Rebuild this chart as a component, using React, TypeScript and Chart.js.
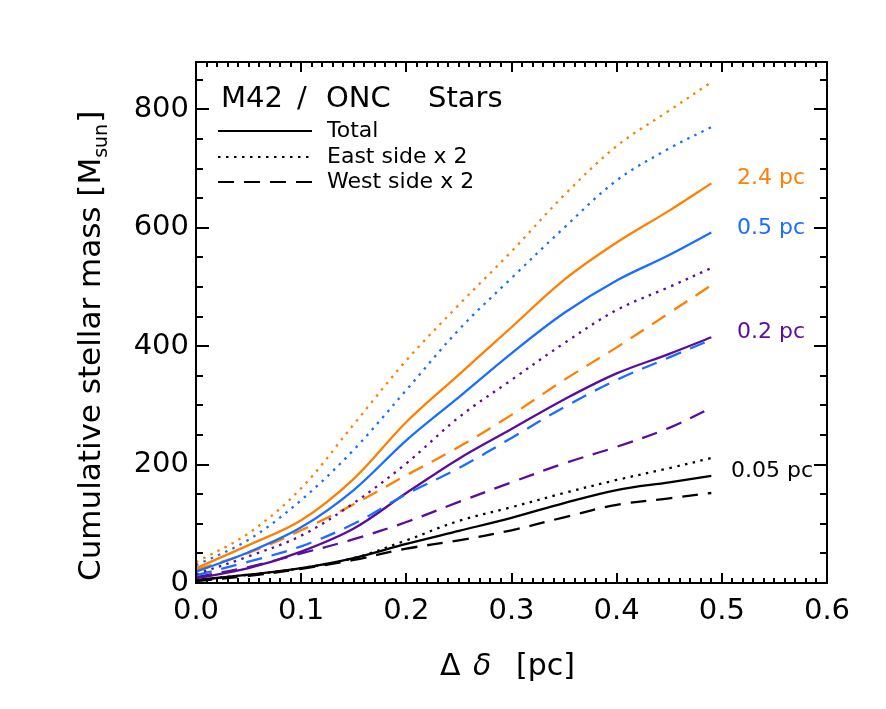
import React, { useEffect, useRef } from 'react';
import { Chart, registerables } from 'chart.js';
Chart.register(...registerables);

// ---- data ----
const xs = [0, 0.05, 0.1, 0.15, 0.2, 0.25, 0.3, 0.35, 0.4, 0.45, 0.49];
const east24 = [35, 84, 160, 268, 376, 470, 560, 655, 738, 798, 846];
const tot24 = [25, 64, 106, 176, 272, 352, 432, 512, 575, 629, 675];
const west24 = [22, 51, 89, 133, 182, 230, 284, 343, 398, 456, 503];
const east05 = [30, 73, 140, 225, 326, 428, 515, 600, 680, 734, 770];
const tot05 = [19, 52, 94, 157, 241, 314, 388, 456, 511, 554, 592];
const west05 = [13, 36, 62, 100, 150, 194, 245, 297, 343, 381, 411];
const east02 = [15, 45, 80, 135, 202, 280, 343, 405, 461, 500, 532];
const tot02 = [8, 25, 53, 92, 152, 210, 260, 310, 354, 387, 415];
const west02 = [10, 27, 50, 74, 103, 137, 170, 202, 230, 262, 296];
const east005 = [5, 14, 25, 42, 72, 105, 128, 152, 174, 194, 211];
const tot005 = [5, 14, 25, 42, 66, 88, 110, 135, 157, 170, 181];
const west005 = [3, 12, 24, 39, 58, 72, 89, 111, 132, 143, 152];

const xTicks = [0, 0.1, 0.2, 0.3, 0.4, 0.5, 0.6];
const yTicks = [0, 200, 400, 600, 800];
const scaleLabels = ['2.4 pc', '0.5 pc', '0.2 pc', '0.05 pc'];
const scaleLabelSeries = [tot24, tot05, tot02, tot005];
const legendTitleWords = ['M42', '/', 'ONC', 'Stars'];
const legendLabels = ['Total', 'East side x 2', 'West side x 2'];
const xTitle = ['Δ', 'δ', '[pc]'];
const yTitle = ['Cumulative stellar mass [M', 'sun', ']'];

const ORANGE = '#ff8000';
const BLUE = '#1a6eff';
const PURPLE = '#5c0c9c';
const BLACK = '#000000';
const colors = [ORANGE, BLUE, PURPLE, BLACK];
const DOT = [2.5, 5.5];
const DASH = [16, 10];
const FONT = '"DejaVu Sans", sans-serif';

function pts(ys: number[]) {
  return ys.map((y, i) => ({ x: xs[i], y }));
}

function ds(ys: number[], color: string, dash: number[]) {
  return {
    data: pts(ys),
    borderColor: color,
    borderWidth: 2.3,
    borderDash: dash,
    pointRadius: 0,
    tension: 0.35,
    fill: false,
  };
}

const decor = {
  id: 'decor',
  afterDraw(chart: any) {
    const ctx = chart.ctx as CanvasRenderingContext2D;
    const { left, right, top, bottom } = chart.chartArea;
    const xs_ = chart.scales.x;
    const ys_ = chart.scales.y;
    ctx.save();
    ctx.strokeStyle = '#000';
    ctx.lineWidth = 2;
    ctx.setLineDash([]);
    ctx.strokeRect(left, top, right - left, bottom - top);
    ctx.beginPath();
    for (let i = 0; i <= 60; i++) {
      const v = i / 100;
      const px = Math.round(xs_.getPixelForValue(v));
      const len = i % 10 === 0 ? 10 : 5;
      ctx.moveTo(px, bottom);
      ctx.lineTo(px, bottom - len);
      ctx.moveTo(px, top);
      ctx.lineTo(px, top + len);
    }
    for (let v = 0; v <= 880; v += 50) {
      const py = Math.round(ys_.getPixelForValue(v));
      const len = v % 200 === 0 ? 13 : 7;
      ctx.moveTo(left, py);
      ctx.lineTo(left + len, py);
      ctx.moveTo(right, py);
      ctx.lineTo(right - len, py);
    }
    ctx.stroke();

    // legend title
    ctx.fillStyle = '#000';
    ctx.textBaseline = 'alphabetic';
    ctx.textAlign = 'left';
    ctx.font = `29px ${FONT}`;
    const wx = [221, 297, 326, 428];
    legendTitleWords.forEach((w, i) => ctx.fillText(w, wx[i], 107));
    // legend entries
    ctx.font = `22px ${FONT}`;
    const dashes = [[], DOT, DASH];
    const ly = [131, 157, 182];
    legendLabels.forEach((t, i) => {
      const y = ly[i];
      ctx.beginPath();
      ctx.setLineDash(dashes[i]);
      ctx.moveTo(218, y);
      ctx.lineTo(312, y);
      ctx.stroke();
      ctx.setLineDash([]);
      ctx.fillText(t, 327, y + 6);
    });

    // curve labels, baseline at the end of the total curve
    ctx.font = `22px ${FONT}`;
    scaleLabels.forEach((t, i) => {
      ctx.fillStyle = colors[i];
      const s = scaleLabelSeries[i];
      const py = ys_.getPixelForValue(s[s.length - 1]);
      ctx.fillText(t, i === 3 ? 731 : 737, py + 1);
    });

    // x title
    ctx.fillStyle = '#000';
    ctx.font = `30px ${FONT}`;
    ctx.fillText(xTitle[0], 440, 675);
    ctx.font = `italic 30px ${FONT}`;
    ctx.fillText(xTitle[1], 473, 675);
    ctx.font = `30px ${FONT}`;
    ctx.fillText(xTitle[2], 516, 675);

    // y title
    ctx.translate(100, 581);
    ctx.rotate(-Math.PI / 2);
    ctx.font = `31px ${FONT}`;
    ctx.fillText(yTitle[0], 0, 0);
    const w0 = ctx.measureText(yTitle[0]).width;
    ctx.font = `19px ${FONT}`;
    ctx.fillText(yTitle[1], w0, 7);
    const w1 = ctx.measureText(yTitle[1]).width;
    ctx.font = `31px ${FONT}`;
    ctx.fillText(yTitle[2], w0 + w1 + 1, 0);
    ctx.restore();
  },
};

export default function App() {
  const ref = useRef<HTMLCanvasElement | null>(null);
  useEffect(() => {
    if (!ref.current) return;
    const chart = new Chart(ref.current, {
      type: 'line',
      data: {
        datasets: [
          ds(east24, ORANGE, DOT),
          ds(east05, BLUE, DOT),
          ds(tot24, ORANGE, []),
          ds(tot05, BLUE, []),
          ds(east02, PURPLE, DOT),
          ds(west24, ORANGE, DASH),
          ds(west05, BLUE, DASH),
          ds(tot02, PURPLE, []),
          ds(west02, PURPLE, DASH),
          ds(east005, BLACK, DOT),
          ds(tot005, BLACK, []),
          ds(west005, BLACK, DASH),
        ],
      },
      options: {
        animation: false,
        responsive: false,
        devicePixelRatio: 1,
        layout: { padding: { top: 62, right: 59, left: 0, bottom: 0 } },
        plugins: { legend: { display: false }, tooltip: { enabled: false } },
        scales: {
          x: {
            type: 'linear',
            min: 0,
            max: 0.6,
            grid: { display: false, drawTicks: false },
            border: { display: false },
            ticks: {
              stepSize: 0.1,
              color: '#000',
              font: { family: FONT, size: 29 },
              padding: 11,
              maxRotation: 0,
              callback: (v: any) => (xTicks.includes(Math.round(v * 10) / 10) ? Number(v).toFixed(1) : ''),
            },
            afterFit: (s: any) => { s.height = 126; },
          },
          y: {
            type: 'linear',
            min: 0,
            max: 880,
            grid: { display: false, drawTicks: false },
            border: { display: false },
            ticks: {
              stepSize: 200,
              includeBounds: false,
              color: '#000',
              font: { family: FONT, size: 29 },
              padding: 7,
              callback: (v: any) => (yTicks.includes(v) ? String(v) : ''),
            },
            afterFit: (s: any) => { s.width = 196; },
          },
        },
      },
      plugins: [decor],
    });
    return () => chart.destroy();
  }, []);
  return (
    <div style={{ position: 'absolute', left: 0, top: 0, width: 886, height: 709, background: '#fff' }}>
      <canvas ref={ref} width={886} height={709} />
    </div>
  );
}
